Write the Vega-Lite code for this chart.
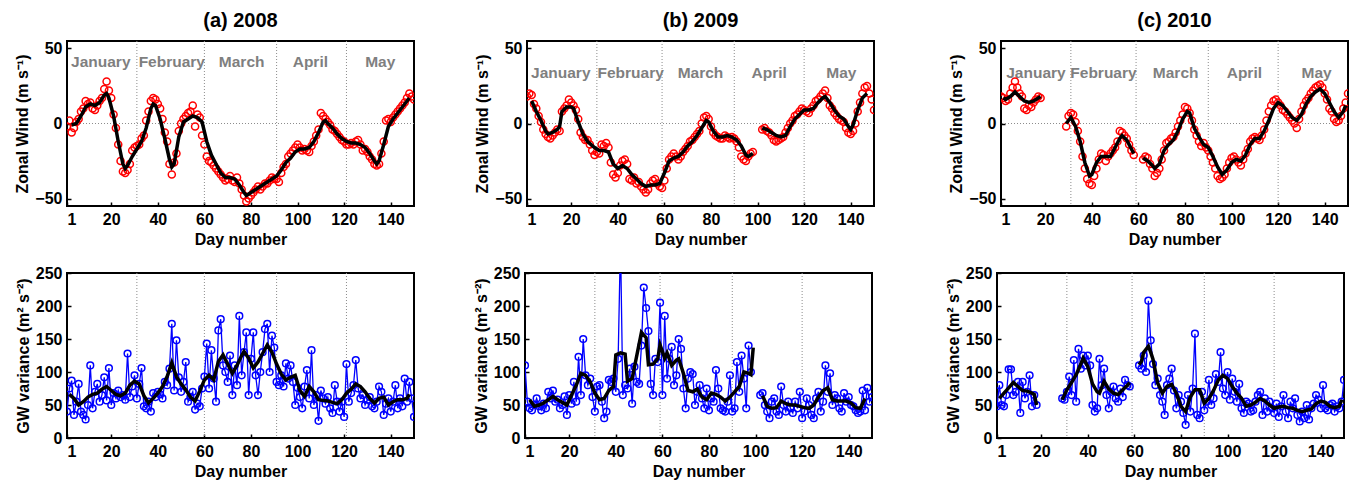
{
"$schema":"https://vega.github.io/schema/vega-lite/v6.json",
"padding":{"left":13,"top":9,"right":0,"bottom":0},
"background":"white",
"config":{
"font":"Liberation Sans",
"view":{"stroke":"black","strokeWidth":2},
"axis":{"labelFont":"Liberation Sans","labelFontWeight":"bold","labelFontSize":16,"labelColor":"black","labelOverlap":false,"titleFont":"Liberation Sans","titleFontWeight":"bold","titleFontSize":16,"titleColor":"black","domain":false,"grid":false,"tickColor":"black","tickSize":-4,"tickWidth":1.5,"labelPadding":9,"titlePadding":4},
"title":{"font":"Liberation Sans","fontSize":20,"fontWeight":"bold","color":"black","offset":10}
},
"datasets":{
"mb":[{"p":"a","d":31},{"p":"a","d":60},{"p":"a","d":91},{"p":"a","d":121},{"p":"b","d":31},{"p":"b","d":59},{"p":"b","d":90},{"p":"b","d":120},{"p":"c","d":31},{"p":"c","d":59},{"p":"c","d":90},{"p":"c","d":120}],
"ml":[{"p":"a","d":15.5,"m":"January"},{"p":"a","d":46,"m":"February"},{"p":"a","d":76,"m":"March"},{"p":"a","d":105.5,"m":"April"},{"p":"a","d":135.5,"m":"May"},
{"p":"b","d":15.5,"m":"January"},{"p":"b","d":45.5,"m":"February"},{"p":"b","d":75.5,"m":"March"},{"p":"b","d":105,"m":"April"},{"p":"b","d":136,"m":"May"},
{"p":"c","d":16,"m":"January"},{"p":"c","d":45,"m":"February"},{"p":"c","d":76,"m":"March"},{"p":"c","d":105.5,"m":"April"},{"p":"c","d":136.5,"m":"May"}],
"raw":[
{"p":"a","d":1,"u":-2,"w":40,"g":1},{"p":"a","d":2,"u":2,"w":75,"g":1},{"p":"a","d":3,"u":-6,"w":87,"g":1},{"p":"a","d":4,"u":-3,"w":35,"g":1},{"p":"a","d":5,"u":1,"w":55,"g":1},{"p":"a","d":6,"u":3,"w":82,"g":1},{"p":"a","d":7,"u":8,"w":40,"g":1},{"p":"a","d":8,"u":10,"w":35,"g":1},{"p":"a","d":9,"u":15,"w":28,"g":1},{"p":"a","d":10,"u":13,"w":50,"g":1},
{"p":"a","d":11,"u":14,"w":110,"g":1},{"p":"a","d":12,"u":10,"w":45,"g":1},{"p":"a","d":13,"u":9,"w":70,"g":1},{"p":"a","d":14,"u":12,"w":82,"g":1},{"p":"a","d":15,"u":15,"w":55,"g":1},{"p":"a","d":16,"u":17,"w":65,"g":1},{"p":"a","d":17,"u":23,"w":92,"g":1},{"p":"a","d":18,"u":28,"w":57,"g":1},{"p":"a","d":19,"u":22,"w":106,"g":1},{"p":"a","d":20,"u":17,"w":50,"g":1},
{"p":"a","d":21,"u":6,"w":68,"g":1},{"p":"a","d":22,"u":-3,"w":60,"g":1},{"p":"a","d":23,"u":-14,"w":72,"g":1},{"p":"a","d":24,"u":-25,"w":62,"g":1},{"p":"a","d":25,"u":-32,"w":65,"g":1},{"p":"a","d":26,"u":-33,"w":58,"g":1},{"p":"a","d":27,"u":-31,"w":128,"g":1},{"p":"a","d":28,"u":-27,"w":62,"g":1},{"p":"a","d":29,"u":-18,"w":78,"g":1},{"p":"a","d":30,"u":-16,"w":95,"g":1},
{"p":"a","d":31,"u":-15,"w":60,"g":1},{"p":"a","d":32,"u":-14,"w":82,"g":1},{"p":"a","d":33,"u":-10,"w":106,"g":1},{"p":"a","d":34,"u":-8,"w":48,"g":1},{"p":"a","d":35,"u":2,"w":45,"g":1},{"p":"a","d":36,"u":8,"w":55,"g":1},{"p":"a","d":37,"u":15,"w":40,"g":1},{"p":"a","d":38,"u":17,"w":68,"g":1},{"p":"a","d":39,"u":16,"w":62,"g":1},{"p":"a","d":40,"u":13,"w":70,"g":1},
{"p":"a","d":41,"u":10,"w":66,"g":1},{"p":"a","d":42,"u":3,"w":60,"g":1},{"p":"a","d":43,"u":-6,"w":85,"g":1},{"p":"a","d":44,"u":-12,"w":80,"g":1},{"p":"a","d":45,"u":-27,"w":105,"g":1},{"p":"a","d":46,"u":-34,"w":173,"g":1},{"p":"a","d":47,"u":-26,"w":72,"g":1},{"p":"a","d":48,"u":-20,"w":148,"g":1},{"p":"a","d":49,"u":-5,"w":92,"g":1},{"p":"a","d":50,"u":0,"w":70,"g":1},
{"p":"a","d":51,"u":3,"w":85,"g":1},{"p":"a","d":52,"u":5,"w":115,"g":1},{"p":"a","d":53,"u":7,"w":55,"g":1},{"p":"a","d":54,"u":8,"w":62,"g":1},{"p":"a","d":55,"u":12,"w":70,"g":1},{"p":"a","d":56,"u":-2,"w":43,"g":1},{"p":"a","d":57,"u":6,"w":52,"g":1},{"p":"a","d":58,"u":4,"w":48,"g":1},{"p":"a","d":59,"u":-8,"w":75,"g":1},{"p":"a","d":60,"u":-14,"w":93,"g":1},
{"p":"a","d":61,"u":-22,"w":143,"g":1},{"p":"a","d":62,"u":-25,"w":75,"g":1},{"p":"a","d":63,"u":-26,"w":133,"g":1},{"p":"a","d":64,"u":-28,"w":90,"g":1},{"p":"a","d":65,"u":-30,"w":55,"g":1},{"p":"a","d":66,"u":-32,"w":163,"g":1},{"p":"a","d":67,"u":-34,"w":180,"g":1},{"p":"a","d":68,"u":-36,"w":110,"g":1},{"p":"a","d":69,"u":-38,"w":100,"g":1},{"p":"a","d":70,"u":-37,"w":85,"g":1},
{"p":"a","d":71,"u":-35,"w":125,"g":1},{"p":"a","d":72,"u":-38,"w":65,"g":1},{"p":"a","d":73,"u":-39,"w":110,"g":1},{"p":"a","d":74,"u":-36,"w":80,"g":1},{"p":"a","d":75,"u":-40,"w":185,"g":1},{"p":"a","d":76,"u":-44,"w":95,"g":1},{"p":"a","d":77,"u":-48,"w":130,"g":1},{"p":"a","d":78,"u":-52,"w":160,"g":1},{"p":"a","d":79,"u":-50,"w":65,"g":1},{"p":"a","d":80,"u":-48,"w":120,"g":1},
{"p":"a","d":81,"u":-46,"w":160,"g":1},{"p":"a","d":82,"u":-44,"w":95,"g":1},{"p":"a","d":83,"u":-42,"w":65,"g":1},{"p":"a","d":84,"u":-44,"w":100,"g":1},{"p":"a","d":85,"u":-42,"w":130,"g":1},{"p":"a","d":86,"u":-40,"w":165,"g":1},{"p":"a","d":87,"u":-40,"w":173,"g":1},{"p":"a","d":88,"u":-38,"w":100,"g":1},{"p":"a","d":89,"u":-36,"w":155,"g":1},{"p":"a","d":90,"u":-37,"w":137,"g":1},
{"p":"a","d":91,"u":-37,"w":85,"g":1},{"p":"a","d":92,"u":-39,"w":80,"g":1},{"p":"a","d":93,"u":-33,"w":95,"g":1},{"p":"a","d":94,"u":-29,"w":78,"g":1},{"p":"a","d":95,"u":-27,"w":113,"g":1},{"p":"a","d":96,"u":-22,"w":90,"g":1},{"p":"a","d":97,"u":-20,"w":110,"g":1},{"p":"a","d":98,"u":-18,"w":85,"g":1},{"p":"a","d":99,"u":-16,"w":50,"g":1},{"p":"a","d":100,"u":-14,"w":76,"g":1},
{"p":"a","d":101,"u":-16,"w":62,"g":1},{"p":"a","d":102,"u":-18,"w":45,"g":1},{"p":"a","d":103,"u":-17,"w":78,"g":1},{"p":"a","d":104,"u":-18,"w":103,"g":1},{"p":"a","d":105,"u":-19,"w":60,"g":1},{"p":"a","d":106,"u":-15,"w":133,"g":1},{"p":"a","d":107,"u":-12,"w":50,"g":1},{"p":"a","d":108,"u":-8,"w":65,"g":1},{"p":"a","d":109,"u":-4,"w":26,"g":1},{"p":"a","d":110,"u":7,"w":72,"g":1},
{"p":"a","d":111,"u":5,"w":60,"g":1},{"p":"a","d":112,"u":3,"w":52,"g":1},{"p":"a","d":113,"u":1,"w":62,"g":1},{"p":"a","d":114,"u":-1,"w":45,"g":1},{"p":"a","d":115,"u":-4,"w":38,"g":1},{"p":"a","d":116,"u":-5,"w":80,"g":1},{"p":"a","d":117,"u":-7,"w":55,"g":1},{"p":"a","d":118,"u":-9,"w":40,"g":1},{"p":"a","d":119,"u":-11,"w":55,"g":1},{"p":"a","d":120,"u":-12,"w":32,"g":1},
{"p":"a","d":121,"u":-14,"w":112,"g":1},{"p":"a","d":122,"u":-14,"w":55,"g":1},{"p":"a","d":123,"u":-13,"w":68,"g":1},{"p":"a","d":124,"u":-14,"w":80,"g":1},{"p":"a","d":125,"u":-12,"w":118,"g":1},{"p":"a","d":126,"u":-11,"w":75,"g":1},{"p":"a","d":127,"u":-14,"w":60,"g":1},{"p":"a","d":128,"u":-18,"w":65,"g":1},{"p":"a","d":129,"u":-17,"w":50,"g":1},{"p":"a","d":130,"u":-19,"w":58,"g":1},
{"p":"a","d":131,"u":-22,"w":62,"g":1},{"p":"a","d":132,"u":-24,"w":48,"g":1},{"p":"a","d":133,"u":-27,"w":45,"g":1},{"p":"a","d":134,"u":-28,"w":55,"g":1},{"p":"a","d":135,"u":-27,"w":78,"g":1},{"p":"a","d":136,"u":-20,"w":70,"g":1},{"p":"a","d":137,"u":-12,"w":35,"g":1},{"p":"a","d":138,"u":2,"w":52,"g":1},{"p":"a","d":139,"u":3,"w":60,"g":1},{"p":"a","d":140,"u":1,"w":40,"g":1},
{"p":"a","d":141,"u":4,"w":55,"g":1},{"p":"a","d":142,"u":6,"w":80,"g":1},{"p":"a","d":143,"u":8,"w":45,"g":1},{"p":"a","d":144,"u":10,"w":60,"g":1},{"p":"a","d":145,"u":12,"w":48,"g":1},{"p":"a","d":146,"u":14,"w":90,"g":1},{"p":"a","d":147,"u":17,"w":55,"g":1},{"p":"a","d":148,"u":20,"w":85,"g":1},{"p":"a","d":149,"u":18,"w":60,"g":1},{"p":"a","d":150,"u":16,"w":32,"g":1},
{"p":"b","d":1,"u":18,"w":110,"g":1},{"p":"b","d":2,"u":20,"w":55,"g":1},{"p":"b","d":3,"u":19,"w":45,"g":1},{"p":"b","d":4,"u":13,"w":42,"g":1},{"p":"b","d":5,"u":10,"w":50,"g":1},{"p":"b","d":6,"u":5,"w":60,"g":1},{"p":"b","d":7,"u":1,"w":48,"g":1},{"p":"b","d":8,"u":-4,"w":42,"g":1},{"p":"b","d":9,"u":-7,"w":52,"g":1},{"p":"b","d":10,"u":-9,"w":45,"g":1},
{"p":"b","d":11,"u":-10,"w":70,"g":1},{"p":"b","d":12,"u":-8,"w":60,"g":1},{"p":"b","d":13,"u":-6,"w":72,"g":1},{"p":"b","d":14,"u":-4,"w":55,"g":1},{"p":"b","d":15,"u":-5,"w":58,"g":1},{"p":"b","d":16,"u":8,"w":45,"g":1},{"p":"b","d":17,"u":10,"w":50,"g":1},{"p":"b","d":18,"u":12,"w":63,"g":1},{"p":"b","d":19,"u":16,"w":35,"g":1},{"p":"b","d":20,"u":14,"w":65,"g":1},
{"p":"b","d":21,"u":12,"w":52,"g":1},{"p":"b","d":22,"u":9,"w":85,"g":1},{"p":"b","d":23,"u":3,"w":55,"g":1},{"p":"b","d":24,"u":-6,"w":123,"g":1},{"p":"b","d":25,"u":-9,"w":65,"g":1},{"p":"b","d":26,"u":-11,"w":150,"g":1},{"p":"b","d":27,"u":-11,"w":95,"g":1},{"p":"b","d":28,"u":-14,"w":80,"g":1},{"p":"b","d":29,"u":-18,"w":90,"g":1},{"p":"b","d":30,"u":-21,"w":62,"g":1},
{"p":"b","d":31,"u":-19,"w":40,"g":1},{"p":"b","d":32,"u":-20,"w":78,"g":1},{"p":"b","d":33,"u":-14,"w":80,"g":1},{"p":"b","d":34,"u":-15,"w":55,"g":1},{"p":"b","d":35,"u":-13,"w":30,"g":1},{"p":"b","d":36,"u":-16,"w":40,"g":1},{"p":"b","d":37,"u":-26,"w":88,"g":1},{"p":"b","d":38,"u":-34,"w":85,"g":1},{"p":"b","d":39,"u":-36,"w":90,"g":1},{"p":"b","d":40,"u":-33,"w":70,"g":1},
{"p":"b","d":41,"u":-28,"w":120,"g":1},{"p":"b","d":42,"u":-25,"w":300,"g":1},{"p":"b","d":43,"u":-24,"w":65,"g":1},{"p":"b","d":44,"u":-27,"w":80,"g":1},{"p":"b","d":45,"u":-37,"w":75,"g":1},{"p":"b","d":46,"u":-38,"w":105,"g":1},{"p":"b","d":47,"u":-36,"w":52,"g":1},{"p":"b","d":48,"u":-40,"w":108,"g":1},{"p":"b","d":49,"u":-39,"w":85,"g":1},{"p":"b","d":50,"u":-42,"w":82,"g":1},
{"p":"b","d":51,"u":-44,"w":140,"g":1},{"p":"b","d":52,"u":-46,"w":228,"g":1},{"p":"b","d":53,"u":-44,"w":197,"g":1},{"p":"b","d":54,"u":-40,"w":162,"g":1},{"p":"b","d":55,"u":-38,"w":82,"g":1},{"p":"b","d":56,"u":-37,"w":65,"g":1},{"p":"b","d":57,"u":-40,"w":120,"g":1},{"p":"b","d":58,"u":-42,"w":115,"g":1},{"p":"b","d":59,"u":-43,"w":205,"g":1},{"p":"b","d":60,"u":-38,"w":65,"g":1},
{"p":"b","d":61,"u":-30,"w":185,"g":1},{"p":"b","d":62,"u":-24,"w":90,"g":1},{"p":"b","d":63,"u":-22,"w":120,"g":1},{"p":"b","d":64,"u":-20,"w":138,"g":1},{"p":"b","d":65,"u":-22,"w":80,"g":1},{"p":"b","d":66,"u":-24,"w":95,"g":1},{"p":"b","d":67,"u":-22,"w":150,"g":1},{"p":"b","d":68,"u":-19,"w":135,"g":1},{"p":"b","d":69,"u":-17,"w":75,"g":1},{"p":"b","d":70,"u":-15,"w":45,"g":1},
{"p":"b","d":71,"u":-12,"w":90,"g":1},{"p":"b","d":72,"u":-11,"w":100,"g":1},{"p":"b","d":73,"u":-9,"w":97,"g":1},{"p":"b","d":74,"u":-7,"w":50,"g":1},{"p":"b","d":75,"u":-5,"w":70,"g":1},{"p":"b","d":76,"u":0,"w":80,"g":1},{"p":"b","d":77,"u":4,"w":60,"g":1},{"p":"b","d":78,"u":5,"w":45,"g":1},{"p":"b","d":79,"u":3,"w":75,"g":1},{"p":"b","d":80,"u":-2,"w":42,"g":1},
{"p":"b","d":81,"u":-6,"w":60,"g":1},{"p":"b","d":82,"u":-8,"w":55,"g":1},{"p":"b","d":83,"u":-9,"w":103,"g":1},{"p":"b","d":84,"u":-10,"w":75,"g":1},{"p":"b","d":85,"u":-10,"w":45,"g":1},{"p":"b","d":86,"u":-8,"w":42,"g":1},{"p":"b","d":87,"u":-9,"w":40,"g":1},{"p":"b","d":88,"u":-10,"w":55,"g":1},{"p":"b","d":89,"u":-9,"w":95,"g":1},{"p":"b","d":90,"u":-10,"w":40,"g":1},
{"p":"b","d":91,"u":-12,"w":45,"g":1},{"p":"b","d":92,"u":-16,"w":115,"g":1},{"p":"b","d":93,"u":-22,"w":70,"g":1},{"p":"b","d":94,"u":-24,"w":125,"g":1},{"p":"b","d":95,"u":-25,"w":90,"g":1},{"p":"b","d":96,"u":-22,"w":45,"g":1},{"p":"b","d":97,"u":-20,"w":140,"g":1},{"p":"b","d":98,"u":-19,"w":100,"g":1},
{"p":"b","d":102,"u":-4,"w":65,"g":2},{"p":"b","d":103,"u":-3,"w":68,"g":2},{"p":"b","d":104,"u":-5,"w":50,"g":2},{"p":"b","d":105,"u":-6,"w":40,"g":2},{"p":"b","d":106,"u":-8,"w":30,"g":2},{"p":"b","d":107,"u":-11,"w":55,"g":2},{"p":"b","d":108,"u":-12,"w":60,"g":2},{"p":"b","d":109,"u":-11,"w":40,"g":2},{"p":"b","d":110,"u":-10,"w":35,"g":2},
{"p":"b","d":111,"u":-9,"w":78,"g":2},{"p":"b","d":112,"u":-6,"w":50,"g":2},{"p":"b","d":113,"u":-3,"w":40,"g":2},{"p":"b","d":114,"u":0,"w":55,"g":2},{"p":"b","d":115,"u":2,"w":45,"g":2},{"p":"b","d":116,"u":5,"w":38,"g":2},{"p":"b","d":117,"u":6,"w":55,"g":2},{"p":"b","d":118,"u":8,"w":45,"g":2},{"p":"b","d":119,"u":10,"w":70,"g":2},{"p":"b","d":120,"u":9,"w":30,"g":2},
{"p":"b","d":121,"u":8,"w":40,"g":2},{"p":"b","d":122,"u":7,"w":60,"g":2},{"p":"b","d":123,"u":10,"w":50,"g":2},{"p":"b","d":124,"u":12,"w":35,"g":2},{"p":"b","d":125,"u":15,"w":30,"g":2},{"p":"b","d":126,"u":16,"w":60,"g":2},{"p":"b","d":127,"u":18,"w":70,"g":2},{"p":"b","d":128,"u":20,"w":40,"g":2},{"p":"b","d":129,"u":22,"w":55,"g":2},{"p":"b","d":130,"u":17,"w":110,"g":2},
{"p":"b","d":131,"u":12,"w":70,"g":2},{"p":"b","d":132,"u":10,"w":98,"g":2},{"p":"b","d":133,"u":7,"w":50,"g":2},{"p":"b","d":134,"u":5,"w":65,"g":2},{"p":"b","d":135,"u":3,"w":60,"g":2},{"p":"b","d":136,"u":2,"w":45,"g":2},{"p":"b","d":137,"u":1,"w":40,"g":2},{"p":"b","d":138,"u":-3,"w":68,"g":2},{"p":"b","d":139,"u":-6,"w":55,"g":2},{"p":"b","d":140,"u":-7,"w":62,"g":2},
{"p":"b","d":141,"u":-5,"w":50,"g":2},{"p":"b","d":142,"u":0,"w":48,"g":2},{"p":"b","d":143,"u":8,"w":42,"g":2},{"p":"b","d":144,"u":14,"w":38,"g":2},{"p":"b","d":145,"u":20,"w":40,"g":2},{"p":"b","d":146,"u":24,"w":72,"g":2},{"p":"b","d":147,"u":25,"w":42,"g":2},{"p":"b","d":148,"u":20,"w":76,"g":2},{"p":"b","d":149,"u":16,"w":55,"g":2},{"p":"b","d":150,"u":9,"w":62,"g":2},
{"p":"c","d":1,"u":18,"w":48,"g":1},{"p":"c","d":2,"u":17,"w":80,"g":1},{"p":"c","d":3,"u":15,"w":50,"g":1},{"p":"c","d":4,"u":16,"w":48,"g":1},{"p":"c","d":5,"u":20,"w":65,"g":1},{"p":"c","d":6,"u":24,"w":104,"g":1},{"p":"c","d":7,"u":28,"w":104,"g":1},{"p":"c","d":8,"u":24,"w":65,"g":1},{"p":"c","d":9,"u":20,"w":70,"g":1},{"p":"c","d":10,"u":18,"w":85,"g":1},
{"p":"c","d":11,"u":10,"w":38,"g":1},{"p":"c","d":12,"u":9,"w":85,"g":1},{"p":"c","d":13,"u":12,"w":60,"g":1},{"p":"c","d":14,"u":11,"w":70,"g":1},{"p":"c","d":15,"u":14,"w":95,"g":1},{"p":"c","d":16,"u":16,"w":48,"g":1},{"p":"c","d":17,"u":18,"w":65,"g":1},{"p":"c","d":18,"u":17,"w":50,"g":1},
{"p":"c","d":29,"u":-2,"w":60,"g":2},{"p":"c","d":30,"u":5,"w":58,"g":2},{"p":"c","d":31,"u":7,"w":70,"g":2},{"p":"c","d":32,"u":6,"w":93,"g":2},{"p":"c","d":33,"u":1,"w":65,"g":2},{"p":"c","d":34,"u":-5,"w":118,"g":2},{"p":"c","d":35,"u":-12,"w":55,"g":2},{"p":"c","d":36,"u":-22,"w":135,"g":2},{"p":"c","d":37,"u":-30,"w":105,"g":2},{"p":"c","d":38,"u":-37,"w":125,"g":2},
{"p":"c","d":39,"u":-40,"w":110,"g":2},{"p":"c","d":40,"u":-41,"w":125,"g":2},{"p":"c","d":41,"u":-35,"w":110,"g":2},{"p":"c","d":42,"u":-30,"w":50,"g":2},{"p":"c","d":43,"u":-24,"w":40,"g":2},{"p":"c","d":44,"u":-20,"w":45,"g":2},{"p":"c","d":45,"u":-21,"w":120,"g":2},{"p":"c","d":46,"u":-25,"w":80,"g":2},{"p":"c","d":47,"u":-22,"w":105,"g":2},{"p":"c","d":48,"u":-20,"w":65,"g":2},
{"p":"c","d":49,"u":-18,"w":45,"g":2},{"p":"c","d":50,"u":-16,"w":70,"g":2},{"p":"c","d":51,"u":-12,"w":78,"g":2},{"p":"c","d":52,"u":-5,"w":60,"g":2},{"p":"c","d":53,"u":-6,"w":55,"g":2},{"p":"c","d":54,"u":-8,"w":75,"g":2},{"p":"c","d":55,"u":-10,"w":62,"g":2},{"p":"c","d":56,"u":-14,"w":88,"g":2},{"p":"c","d":57,"u":-18,"w":80,"g":2},{"p":"c","d":58,"u":-21,"w":78,"g":2},
{"p":"c","d":62,"u":-24,"w":110,"g":3},{"p":"c","d":63,"u":-22,"w":105,"g":3},{"p":"c","d":64,"u":-23,"w":125,"g":3},{"p":"c","d":65,"u":-27,"w":100,"g":3},{"p":"c","d":66,"u":-30,"w":208,"g":3},{"p":"c","d":67,"u":-35,"w":148,"g":3},{"p":"c","d":68,"u":-33,"w":112,"g":3},{"p":"c","d":69,"u":-30,"w":80,"g":3},{"p":"c","d":70,"u":-24,"w":90,"g":3},
{"p":"c","d":71,"u":-18,"w":65,"g":3},{"p":"c","d":72,"u":-13,"w":55,"g":3},{"p":"c","d":73,"u":-12,"w":35,"g":3},{"p":"c","d":74,"u":-10,"w":80,"g":3},{"p":"c","d":75,"u":-9,"w":90,"g":3},{"p":"c","d":76,"u":-6,"w":105,"g":3},{"p":"c","d":77,"u":-2,"w":72,"g":3},{"p":"c","d":78,"u":2,"w":45,"g":3},{"p":"c","d":79,"u":6,"w":65,"g":3},{"p":"c","d":80,"u":11,"w":55,"g":3},
{"p":"c","d":81,"u":10,"w":38,"g":3},{"p":"c","d":82,"u":7,"w":20,"g":3},{"p":"c","d":83,"u":2,"w":65,"g":3},{"p":"c","d":84,"u":-4,"w":40,"g":3},{"p":"c","d":85,"u":-8,"w":75,"g":3},{"p":"c","d":86,"u":-12,"w":158,"g":3},{"p":"c","d":87,"u":-15,"w":35,"g":3},{"p":"c","d":88,"u":-13,"w":30,"g":3},{"p":"c","d":89,"u":-16,"w":70,"g":3},{"p":"c","d":90,"u":-18,"w":42,"g":3},
{"p":"c","d":91,"u":-22,"w":55,"g":3},{"p":"c","d":92,"u":-26,"w":88,"g":3},{"p":"c","d":93,"u":-30,"w":50,"g":3},{"p":"c","d":94,"u":-35,"w":60,"g":3},{"p":"c","d":95,"u":-37,"w":97,"g":3},{"p":"c","d":96,"u":-36,"w":85,"g":3},{"p":"c","d":97,"u":-34,"w":130,"g":3},{"p":"c","d":98,"u":-30,"w":75,"g":3},{"p":"c","d":99,"u":-26,"w":65,"g":3},{"p":"c","d":100,"u":-23,"w":100,"g":3},
{"p":"c","d":101,"u":-22,"w":58,"g":3},{"p":"c","d":102,"u":-24,"w":90,"g":3},{"p":"c","d":103,"u":-26,"w":70,"g":3},{"p":"c","d":104,"u":-28,"w":55,"g":3},{"p":"c","d":105,"u":-24,"w":82,"g":3},{"p":"c","d":106,"u":-20,"w":45,"g":3},{"p":"c","d":107,"u":-17,"w":38,"g":3},{"p":"c","d":108,"u":-12,"w":55,"g":3},{"p":"c","d":109,"u":-10,"w":52,"g":3},{"p":"c","d":110,"u":-9,"w":40,"g":3},
{"p":"c","d":111,"u":-10,"w":42,"g":3},{"p":"c","d":112,"u":-11,"w":55,"g":3},{"p":"c","d":113,"u":-8,"w":65,"g":3},{"p":"c","d":114,"u":-4,"w":70,"g":3},{"p":"c","d":115,"u":2,"w":35,"g":3},{"p":"c","d":116,"u":8,"w":60,"g":3},{"p":"c","d":117,"u":12,"w":40,"g":3},{"p":"c","d":118,"u":15,"w":55,"g":3},{"p":"c","d":119,"u":16,"w":45,"g":3},{"p":"c","d":120,"u":14,"w":38,"g":3},
{"p":"c","d":121,"u":12,"w":52,"g":3},{"p":"c","d":122,"u":9,"w":32,"g":3},{"p":"c","d":123,"u":8,"w":48,"g":3},{"p":"c","d":124,"u":6,"w":65,"g":3},{"p":"c","d":125,"u":4,"w":40,"g":3},{"p":"c","d":126,"u":2,"w":30,"g":3},{"p":"c","d":127,"u":0,"w":55,"g":3},{"p":"c","d":128,"u":-3,"w":45,"g":3},{"p":"c","d":129,"u":3,"w":60,"g":3},{"p":"c","d":130,"u":8,"w":35,"g":3},
{"p":"c","d":131,"u":12,"w":25,"g":3},{"p":"c","d":132,"u":15,"w":40,"g":3},{"p":"c","d":133,"u":17,"w":30,"g":3},{"p":"c","d":134,"u":20,"w":50,"g":3},{"p":"c","d":135,"u":22,"w":28,"g":3},{"p":"c","d":136,"u":24,"w":45,"g":3},{"p":"c","d":137,"u":25,"w":52,"g":3},{"p":"c","d":138,"u":26,"w":65,"g":3},{"p":"c","d":139,"u":24,"w":58,"g":3},{"p":"c","d":140,"u":20,"w":45,"g":3},
{"p":"c","d":141,"u":16,"w":80,"g":3},{"p":"c","d":142,"u":10,"w":45,"g":3},{"p":"c","d":143,"u":8,"w":42,"g":3},{"p":"c","d":144,"u":3,"w":50,"g":3},{"p":"c","d":145,"u":1,"w":52,"g":3},{"p":"c","d":146,"u":2,"w":40,"g":3},{"p":"c","d":147,"u":5,"w":48,"g":3},{"p":"c","d":148,"u":10,"w":45,"g":3},{"p":"c","d":149,"u":14,"w":55,"g":3},{"p":"c","d":150,"u":20,"w":88,"g":3}
],
"ws":[
{"p":"a","d":3,"s":-1,"g":1},{"p":"a","d":5,"s":0,"g":1},{"p":"a","d":7,"s":5,"g":1},{"p":"a","d":9,"s":11,"g":1},{"p":"a","d":11,"s":13,"g":1},{"p":"a","d":13,"s":12,"g":1},{"p":"a","d":15,"s":14,"g":1},{"p":"a","d":17,"s":19,"g":1},{"p":"a","d":18,"s":20,"g":1},{"p":"a","d":19,"s":17,"g":1},{"p":"a","d":21,"s":5,"g":1},{"p":"a","d":23,"s":-12,"g":1},{"p":"a","d":25,"s":-27,"g":1},{"p":"a","d":26,"s":-30,"g":1},{"p":"a","d":27,"s":-28,"g":1},{"p":"a","d":29,"s":-22,"g":1},{"p":"a","d":31,"s":-17,"g":1},{"p":"a","d":33,"s":-12,"g":1},{"p":"a","d":35,"s":-3,"g":1},{"p":"a","d":37,"s":10,"g":1},{"p":"a","d":38,"s":13,"g":1},{"p":"a","d":39,"s":12,"g":1},{"p":"a","d":41,"s":3,"g":1},{"p":"a","d":43,"s":-10,"g":1},{"p":"a","d":45,"s":-24,"g":1},{"p":"a","d":46,"s":-29,"g":1},{"p":"a","d":47,"s":-27,"g":1},{"p":"a","d":49,"s":-9,"g":1},{"p":"a","d":51,"s":1,"g":1},{"p":"a","d":53,"s":3,"g":1},{"p":"a","d":55,"s":5,"g":1},{"p":"a","d":57,"s":4,"g":1},{"p":"a","d":59,"s":1,"g":1},{"p":"a","d":61,"s":-12,"g":1},{"p":"a","d":63,"s":-21,"g":1},{"p":"a","d":65,"s":-27,"g":1},{"p":"a","d":67,"s":-33,"g":1},{"p":"a","d":69,"s":-36,"g":1},{"p":"a","d":71,"s":-36,"g":1},{"p":"a","d":73,"s":-37,"g":1},{"p":"a","d":75,"s":-41,"g":1},{"p":"a","d":77,"s":-46,"g":1},{"p":"a","d":78,"s":-48,"g":1},{"p":"a","d":79,"s":-47,"g":1},{"p":"a","d":81,"s":-45,"g":1},{"p":"a","d":83,"s":-43,"g":1},{"p":"a","d":85,"s":-41,"g":1},{"p":"a","d":87,"s":-39,"g":1},{"p":"a","d":89,"s":-37,"g":1},{"p":"a","d":91,"s":-35,"g":1},{"p":"a","d":93,"s":-31,"g":1},{"p":"a","d":95,"s":-26,"g":1},{"p":"a","d":97,"s":-23,"g":1},{"p":"a","d":99,"s":-19,"g":1},{"p":"a","d":101,"s":-17,"g":1},{"p":"a","d":103,"s":-17,"g":1},{"p":"a","d":105,"s":-16,"g":1},{"p":"a","d":107,"s":-12,"g":1},{"p":"a","d":109,"s":-6,"g":1},{"p":"a","d":111,"s":1,"g":1},{"p":"a","d":112,"s":2,"g":1},{"p":"a","d":113,"s":0,"g":1},{"p":"a","d":115,"s":-3,"g":1},{"p":"a","d":117,"s":-7,"g":1},{"p":"a","d":119,"s":-10,"g":1},{"p":"a","d":121,"s":-12,"g":1},{"p":"a","d":123,"s":-13,"g":1},{"p":"a","d":125,"s":-13,"g":1},{"p":"a","d":127,"s":-14,"g":1},{"p":"a","d":129,"s":-16,"g":1},{"p":"a","d":131,"s":-20,"g":1},{"p":"a","d":133,"s":-25,"g":1},{"p":"a","d":134,"s":-27,"g":1},{"p":"a","d":135,"s":-25,"g":1},{"p":"a","d":137,"s":-14,"g":1},{"p":"a","d":139,"s":-2,"g":1},{"p":"a","d":141,"s":3,"g":1},{"p":"a","d":143,"s":7,"g":1},{"p":"a","d":145,"s":11,"g":1},{"p":"a","d":147,"s":15,"g":1},{"p":"a","d":148,"s":17,"g":1},
{"p":"b","d":3,"s":15,"g":1},{"p":"b","d":5,"s":8,"g":1},{"p":"b","d":7,"s":2,"g":1},{"p":"b","d":9,"s":-5,"g":1},{"p":"b","d":10,"s":-7,"g":1},{"p":"b","d":12,"s":-6,"g":1},{"p":"b","d":14,"s":-4,"g":1},{"p":"b","d":15,"s":-2,"g":1},{"p":"b","d":16,"s":8,"g":1},{"p":"b","d":18,"s":11,"g":1},{"p":"b","d":20,"s":11,"g":1},{"p":"b","d":21,"s":10,"g":1},{"p":"b","d":23,"s":1,"g":1},{"p":"b","d":25,"s":-7,"g":1},{"p":"b","d":27,"s":-12,"g":1},{"p":"b","d":30,"s":-16,"g":1},{"p":"b","d":32,"s":-18,"g":1},{"p":"b","d":34,"s":-18,"g":1},{"p":"b","d":36,"s":-19,"g":1},{"p":"b","d":38,"s":-27,"g":1},{"p":"b","d":40,"s":-30,"g":1},{"p":"b","d":42,"s":-28,"g":1},{"p":"b","d":44,"s":-30,"g":1},{"p":"b","d":46,"s":-34,"g":1},{"p":"b","d":48,"s":-37,"g":1},{"p":"b","d":50,"s":-40,"g":1},{"p":"b","d":52,"s":-42,"g":1},{"p":"b","d":54,"s":-41,"g":1},{"p":"b","d":56,"s":-41,"g":1},{"p":"b","d":58,"s":-40,"g":1},{"p":"b","d":60,"s":-33,"g":1},{"p":"b","d":62,"s":-25,"g":1},{"p":"b","d":64,"s":-23,"g":1},{"p":"b","d":66,"s":-22,"g":1},{"p":"b","d":68,"s":-19,"g":1},{"p":"b","d":70,"s":-15,"g":1},{"p":"b","d":72,"s":-12,"g":1},{"p":"b","d":74,"s":-8,"g":1},{"p":"b","d":76,"s":-3,"g":1},{"p":"b","d":78,"s":2,"g":1},{"p":"b","d":79,"s":1,"g":1},{"p":"b","d":81,"s":-5,"g":1},{"p":"b","d":83,"s":-9,"g":1},{"p":"b","d":85,"s":-9,"g":1},{"p":"b","d":87,"s":-8,"g":1},{"p":"b","d":89,"s":-9,"g":1},{"p":"b","d":91,"s":-11,"g":1},{"p":"b","d":93,"s":-15,"g":1},{"p":"b","d":95,"s":-21,"g":1},{"p":"b","d":96,"s":-22,"g":1},{"p":"b","d":98,"s":-20,"g":1},
{"p":"b","d":102,"s":-3,"g":2},{"p":"b","d":104,"s":-4,"g":2},{"p":"b","d":106,"s":-6,"g":2},{"p":"b","d":108,"s":-8,"g":2},{"p":"b","d":110,"s":-9,"g":2},{"p":"b","d":112,"s":-8,"g":2},{"p":"b","d":114,"s":-2,"g":2},{"p":"b","d":116,"s":3,"g":2},{"p":"b","d":118,"s":6,"g":2},{"p":"b","d":120,"s":9,"g":2},{"p":"b","d":122,"s":9,"g":2},{"p":"b","d":124,"s":10,"g":2},{"p":"b","d":126,"s":14,"g":2},{"p":"b","d":128,"s":17,"g":2},{"p":"b","d":129,"s":18,"g":2},{"p":"b","d":131,"s":14,"g":2},{"p":"b","d":133,"s":9,"g":2},{"p":"b","d":135,"s":5,"g":2},{"p":"b","d":137,"s":3,"g":2},{"p":"b","d":139,"s":-2,"g":2},{"p":"b","d":140,"s":-4,"g":2},{"p":"b","d":141,"s":-1,"g":2},{"p":"b","d":143,"s":9,"g":2},{"p":"b","d":145,"s":17,"g":2},{"p":"b","d":147,"s":20,"g":2},
{"p":"c","d":2,"s":17,"g":1},{"p":"c","d":3,"s":16,"g":1},{"p":"c","d":5,"s":18,"g":1},{"p":"c","d":7,"s":21,"g":1},{"p":"c","d":9,"s":18,"g":1},{"p":"c","d":11,"s":15,"g":1},{"p":"c","d":13,"s":14,"g":1},{"p":"c","d":15,"s":15,"g":1},{"p":"c","d":17,"s":17,"g":1},{"p":"c","d":18,"s":18,"g":1},
{"p":"c","d":29,"s":0,"g":2},{"p":"c","d":31,"s":4,"g":2},{"p":"c","d":33,"s":-2,"g":2},{"p":"c","d":35,"s":-12,"g":2},{"p":"c","d":37,"s":-26,"g":2},{"p":"c","d":39,"s":-35,"g":2},{"p":"c","d":40,"s":-34,"g":2},{"p":"c","d":42,"s":-26,"g":2},{"p":"c","d":44,"s":-22,"g":2},{"p":"c","d":46,"s":-22,"g":2},{"p":"c","d":48,"s":-22,"g":2},{"p":"c","d":50,"s":-16,"g":2},{"p":"c","d":52,"s":-10,"g":2},{"p":"c","d":53,"s":-8,"g":2},{"p":"c","d":55,"s":-11,"g":2},{"p":"c","d":57,"s":-17,"g":2},{"p":"c","d":58,"s":-20,"g":2},
{"p":"c","d":62,"s":-23,"g":3},{"p":"c","d":64,"s":-25,"g":3},{"p":"c","d":66,"s":-28,"g":3},{"p":"c","d":67,"s":-30,"g":3},{"p":"c","d":69,"s":-27,"g":3},{"p":"c","d":71,"s":-18,"g":3},{"p":"c","d":73,"s":-14,"g":3},{"p":"c","d":75,"s":-11,"g":3},{"p":"c","d":77,"s":-5,"g":3},{"p":"c","d":79,"s":3,"g":3},{"p":"c","d":81,"s":8,"g":3},{"p":"c","d":82,"s":7,"g":3},{"p":"c","d":84,"s":-3,"g":3},{"p":"c","d":86,"s":-9,"g":3},{"p":"c","d":88,"s":-14,"g":3},{"p":"c","d":90,"s":-16,"g":3},{"p":"c","d":92,"s":-22,"g":3},{"p":"c","d":94,"s":-29,"g":3},{"p":"c","d":96,"s":-34,"g":3},{"p":"c","d":98,"s":-31,"g":3},{"p":"c","d":100,"s":-26,"g":3},{"p":"c","d":102,"s":-24,"g":3},{"p":"c","d":104,"s":-25,"g":3},{"p":"c","d":106,"s":-21,"g":3},{"p":"c","d":108,"s":-14,"g":3},{"p":"c","d":110,"s":-10,"g":3},{"p":"c","d":112,"s":-10,"g":3},{"p":"c","d":114,"s":-5,"g":3},{"p":"c","d":116,"s":2,"g":3},{"p":"c","d":118,"s":10,"g":3},{"p":"c","d":120,"s":14,"g":3},{"p":"c","d":122,"s":12,"g":3},{"p":"c","d":124,"s":8,"g":3},{"p":"c","d":126,"s":4,"g":3},{"p":"c","d":128,"s":2,"g":3},{"p":"c","d":130,"s":6,"g":3},{"p":"c","d":132,"s":13,"g":3},{"p":"c","d":134,"s":18,"g":3},{"p":"c","d":136,"s":21,"g":3},{"p":"c","d":138,"s":23,"g":3},{"p":"c","d":140,"s":20,"g":3},{"p":"c","d":142,"s":14,"g":3},{"p":"c","d":144,"s":8,"g":3},{"p":"c","d":146,"s":4,"g":3},{"p":"c","d":148,"s":8,"g":3},{"p":"c","d":149,"s":12,"g":3}
],
"vs":[
{"p":"a","d":2,"s":66,"g":1},{"p":"a","d":4,"s":60,"g":1},{"p":"a","d":6,"s":50,"g":1},{"p":"a","d":8,"s":55,"g":1},{"p":"a","d":10,"s":62,"g":1},{"p":"a","d":12,"s":66,"g":1},{"p":"a","d":14,"s":68,"g":1},{"p":"a","d":16,"s":74,"g":1},{"p":"a","d":18,"s":78,"g":1},{"p":"a","d":20,"s":72,"g":1},{"p":"a","d":22,"s":66,"g":1},{"p":"a","d":24,"s":64,"g":1},{"p":"a","d":26,"s":68,"g":1},{"p":"a","d":28,"s":80,"g":1},{"p":"a","d":30,"s":86,"g":1},{"p":"a","d":32,"s":82,"g":1},{"p":"a","d":34,"s":64,"g":1},{"p":"a","d":36,"s":53,"g":1},{"p":"a","d":38,"s":60,"g":1},{"p":"a","d":40,"s":68,"g":1},{"p":"a","d":42,"s":78,"g":1},{"p":"a","d":44,"s":93,"g":1},{"p":"a","d":46,"s":114,"g":1},{"p":"a","d":48,"s":93,"g":1},{"p":"a","d":50,"s":82,"g":1},{"p":"a","d":52,"s":73,"g":1},{"p":"a","d":54,"s":62,"g":1},{"p":"a","d":56,"s":56,"g":1},{"p":"a","d":58,"s":71,"g":1},{"p":"a","d":60,"s":88,"g":1},{"p":"a","d":62,"s":95,"g":1},{"p":"a","d":64,"s":88,"g":1},{"p":"a","d":66,"s":116,"g":1},{"p":"a","d":68,"s":126,"g":1},{"p":"a","d":70,"s":112,"g":1},{"p":"a","d":72,"s":98,"g":1},{"p":"a","d":74,"s":110,"g":1},{"p":"a","d":76,"s":125,"g":1},{"p":"a","d":77,"s":131,"g":1},{"p":"a","d":79,"s":121,"g":1},{"p":"a","d":81,"s":106,"g":1},{"p":"a","d":83,"s":115,"g":1},{"p":"a","d":85,"s":128,"g":1},{"p":"a","d":87,"s":141,"g":1},{"p":"a","d":89,"s":130,"g":1},{"p":"a","d":91,"s":112,"g":1},{"p":"a","d":93,"s":97,"g":1},{"p":"a","d":95,"s":88,"g":1},{"p":"a","d":97,"s":92,"g":1},{"p":"a","d":99,"s":95,"g":1},{"p":"a","d":101,"s":72,"g":1},{"p":"a","d":103,"s":63,"g":1},{"p":"a","d":105,"s":78,"g":1},{"p":"a","d":107,"s":70,"g":1},{"p":"a","d":109,"s":58,"g":1},{"p":"a","d":111,"s":57,"g":1},{"p":"a","d":113,"s":56,"g":1},{"p":"a","d":115,"s":54,"g":1},{"p":"a","d":117,"s":52,"g":1},{"p":"a","d":119,"s":58,"g":1},{"p":"a","d":121,"s":68,"g":1},{"p":"a","d":123,"s":74,"g":1},{"p":"a","d":125,"s":82,"g":1},{"p":"a","d":127,"s":78,"g":1},{"p":"a","d":129,"s":70,"g":1},{"p":"a","d":131,"s":60,"g":1},{"p":"a","d":133,"s":53,"g":1},{"p":"a","d":135,"s":60,"g":1},{"p":"a","d":137,"s":62,"g":1},{"p":"a","d":139,"s":50,"g":1},{"p":"a","d":141,"s":55,"g":1},{"p":"a","d":143,"s":58,"g":1},{"p":"a","d":145,"s":58,"g":1},{"p":"a","d":147,"s":60,"g":1},{"p":"a","d":148,"s":66,"g":1},
{"p":"b","d":3,"s":58,"g":1},{"p":"b","d":5,"s":48,"g":1},{"p":"b","d":7,"s":50,"g":1},{"p":"b","d":9,"s":53,"g":1},{"p":"b","d":11,"s":58,"g":1},{"p":"b","d":13,"s":63,"g":1},{"p":"b","d":15,"s":58,"g":1},{"p":"b","d":17,"s":54,"g":1},{"p":"b","d":19,"s":50,"g":1},{"p":"b","d":21,"s":65,"g":1},{"p":"b","d":23,"s":80,"g":1},{"p":"b","d":25,"s":98,"g":1},{"p":"b","d":27,"s":95,"g":1},{"p":"b","d":29,"s":85,"g":1},{"p":"b","d":31,"s":68,"g":1},{"p":"b","d":33,"s":58,"g":1},{"p":"b","d":35,"s":60,"g":1},{"p":"b","d":37,"s":72,"g":1},{"p":"b","d":39,"s":78,"g":1},{"p":"b","d":40,"s":126,"g":1},{"p":"b","d":42,"s":129,"g":1},{"p":"b","d":44,"s":127,"g":1},{"p":"b","d":45,"s":86,"g":1},{"p":"b","d":47,"s":90,"g":1},{"p":"b","d":49,"s":125,"g":1},{"p":"b","d":51,"s":160,"g":1},{"p":"b","d":53,"s":152,"g":1},{"p":"b","d":54,"s":111,"g":1},{"p":"b","d":56,"s":112,"g":1},{"p":"b","d":58,"s":120,"g":1},{"p":"b","d":59,"s":141,"g":1},{"p":"b","d":61,"s":121,"g":1},{"p":"b","d":62,"s":129,"g":1},{"p":"b","d":64,"s":110,"g":1},{"p":"b","d":66,"s":118,"g":1},{"p":"b","d":67,"s":120,"g":1},{"p":"b","d":69,"s":98,"g":1},{"p":"b","d":71,"s":72,"g":1},{"p":"b","d":73,"s":70,"g":1},{"p":"b","d":75,"s":74,"g":1},{"p":"b","d":77,"s":62,"g":1},{"p":"b","d":79,"s":58,"g":1},{"p":"b","d":81,"s":68,"g":1},{"p":"b","d":83,"s":66,"g":1},{"p":"b","d":85,"s":62,"g":1},{"p":"b","d":87,"s":56,"g":1},{"p":"b","d":89,"s":62,"g":1},{"p":"b","d":91,"s":70,"g":1},{"p":"b","d":93,"s":78,"g":1},{"p":"b","d":95,"s":100,"g":1},{"p":"b","d":97,"s":98,"g":1},{"p":"b","d":98,"s":96,"g":1},{"p":"b","d":99,"s":137,"g":1},
{"p":"b","d":103,"s":64,"g":2},{"p":"b","d":105,"s":48,"g":2},{"p":"b","d":107,"s":45,"g":2},{"p":"b","d":109,"s":46,"g":2},{"p":"b","d":111,"s":56,"g":2},{"p":"b","d":113,"s":52,"g":2},{"p":"b","d":115,"s":50,"g":2},{"p":"b","d":117,"s":50,"g":2},{"p":"b","d":119,"s":48,"g":2},{"p":"b","d":121,"s":46,"g":2},{"p":"b","d":123,"s":45,"g":2},{"p":"b","d":125,"s":50,"g":2},{"p":"b","d":127,"s":62,"g":2},{"p":"b","d":129,"s":72,"g":2},{"p":"b","d":131,"s":76,"g":2},{"p":"b","d":133,"s":58,"g":2},{"p":"b","d":135,"s":56,"g":2},{"p":"b","d":137,"s":56,"g":2},{"p":"b","d":139,"s":56,"g":2},{"p":"b","d":141,"s":53,"g":2},{"p":"b","d":143,"s":46,"g":2},{"p":"b","d":145,"s":45,"g":2},{"p":"b","d":147,"s":60,"g":2},
{"p":"c","d":2,"s":60,"g":1},{"p":"c","d":4,"s":68,"g":1},{"p":"c","d":6,"s":76,"g":1},{"p":"c","d":8,"s":84,"g":1},{"p":"c","d":10,"s":78,"g":1},{"p":"c","d":12,"s":72,"g":1},{"p":"c","d":14,"s":71,"g":1},{"p":"c","d":16,"s":68,"g":1},{"p":"c","d":17,"s":66,"g":1},{"p":"c","d":18,"s":50,"g":1},
{"p":"c","d":29,"s":58,"g":2},{"p":"c","d":31,"s":73,"g":2},{"p":"c","d":33,"s":84,"g":2},{"p":"c","d":35,"s":96,"g":2},{"p":"c","d":37,"s":112,"g":2},{"p":"c","d":38,"s":121,"g":2},{"p":"c","d":40,"s":108,"g":2},{"p":"c","d":42,"s":82,"g":2},{"p":"c","d":44,"s":70,"g":2},{"p":"c","d":45,"s":68,"g":2},{"p":"c","d":47,"s":86,"g":2},{"p":"c","d":49,"s":74,"g":2},{"p":"c","d":51,"s":68,"g":2},{"p":"c","d":53,"s":66,"g":2},{"p":"c","d":55,"s":73,"g":2},{"p":"c","d":57,"s":80,"g":2},{"p":"c","d":58,"s":84,"g":2},
{"p":"c","d":62,"s":111,"g":3},{"p":"c","d":63,"s":116,"g":3},{"p":"c","d":64,"s":130,"g":3},{"p":"c","d":66,"s":139,"g":3},{"p":"c","d":67,"s":130,"g":3},{"p":"c","d":68,"s":119,"g":3},{"p":"c","d":70,"s":83,"g":3},{"p":"c","d":72,"s":68,"g":3},{"p":"c","d":74,"s":78,"g":3},{"p":"c","d":76,"s":81,"g":3},{"p":"c","d":78,"s":68,"g":3},{"p":"c","d":80,"s":48,"g":3},{"p":"c","d":82,"s":40,"g":3},{"p":"c","d":84,"s":62,"g":3},{"p":"c","d":86,"s":73,"g":3},{"p":"c","d":88,"s":73,"g":3},{"p":"c","d":90,"s":53,"g":3},{"p":"c","d":92,"s":60,"g":3},{"p":"c","d":94,"s":72,"g":3},{"p":"c","d":96,"s":88,"g":3},{"p":"c","d":98,"s":95,"g":3},{"p":"c","d":100,"s":90,"g":3},{"p":"c","d":102,"s":78,"g":3},{"p":"c","d":104,"s":68,"g":3},{"p":"c","d":106,"s":60,"g":3},{"p":"c","d":108,"s":48,"g":3},{"p":"c","d":110,"s":50,"g":3},{"p":"c","d":112,"s":54,"g":3},{"p":"c","d":114,"s":60,"g":3},{"p":"c","d":116,"s":56,"g":3},{"p":"c","d":118,"s":50,"g":3},{"p":"c","d":120,"s":45,"g":3},{"p":"c","d":122,"s":47,"g":3},{"p":"c","d":124,"s":48,"g":3},{"p":"c","d":126,"s":46,"g":3},{"p":"c","d":128,"s":45,"g":3},{"p":"c","d":130,"s":42,"g":3},{"p":"c","d":132,"s":40,"g":3},{"p":"c","d":134,"s":42,"g":3},{"p":"c","d":136,"s":44,"g":3},{"p":"c","d":138,"s":52,"g":3},{"p":"c","d":140,"s":56,"g":3},{"p":"c","d":142,"s":54,"g":3},{"p":"c","d":144,"s":48,"g":3},{"p":"c","d":146,"s":46,"g":3},{"p":"c","d":148,"s":48,"g":3},{"p":"c","d":149,"s":58,"g":3}
]
},
"vconcat":[
{"hconcat":[
{"hconcat":[
{"width":347,"height":165,"title":"(a) 2008","layer":[
{"data":{"name":"mb"},"transform":[{"filter":"datum.p=='a'"}],"mark":{"type":"rule","color":"#8c8c8c","strokeDash":[1,2],"strokeWidth":1},"encoding":{"x":{"field":"d","type":"quantitative","scale":{"domain":[1,150],"nice":false,"zero":false},"axis":{"values":[1,20,40,60,80,100,120,140],"title":"Day number"}}}},
{"data":{"values":[{}]},"mark":{"type":"rule","color":"#8c8c8c","strokeDash":[1,2],"strokeWidth":1},"encoding":{"y":{"datum":0,"type":"quantitative","axis":{"values":[-50,0,50],"title":"Zonal Wind (m s⁻¹)"}}}},
{"data":{"name":"ml"},"transform":[{"filter":"datum.p=='a'"}],"mark":{"type":"text","font":"Liberation Sans","fontSize":15.5,"fontWeight":"bold","color":"#7f7f7f"},"encoding":{"x":{"field":"d","type":"quantitative"},"y":{"datum":41,"type":"quantitative","axis":{"values":[-50,0,50],"title":"Zonal Wind (m s⁻¹)"}},"text":{"field":"m"}}},
{"data":{"name":"raw"},"transform":[{"filter":"datum.p=='a'"}],"mark":{"type":"point","shape":"circle","filled":false,"color":"#ff0000","size":50,"strokeWidth":1.5,"opacity":1,"clip":true},"encoding":{"x":{"field":"d","type":"quantitative"},"y":{"field":"u","type":"quantitative","scale":{"domain":[-55,55],"nice":false},"axis":{"values":[-50,0,50],"title":"Zonal Wind (m s⁻¹)"}}}},
{"data":{"name":"ws"},"transform":[{"filter":"datum.p=='a'"}],"mark":{"type":"line","color":"black","strokeWidth":3.5,"clip":true},"encoding":{"x":{"field":"d","type":"quantitative"},"y":{"field":"s","type":"quantitative","axis":{"values":[-50,0,50],"title":"Zonal Wind (m s⁻¹)"}},"detail":{"field":"g"}}}
]},
{"width":347,"height":165,"title":"(b) 2009","layer":[
{"data":{"name":"mb"},"transform":[{"filter":"datum.p=='b'"}],"mark":{"type":"rule","color":"#8c8c8c","strokeDash":[1,2],"strokeWidth":1},"encoding":{"x":{"field":"d","type":"quantitative","scale":{"domain":[1,150],"nice":false,"zero":false},"axis":{"values":[1,20,40,60,80,100,120,140],"title":"Day number"}}}},
{"data":{"values":[{}]},"mark":{"type":"rule","color":"#8c8c8c","strokeDash":[1,2],"strokeWidth":1},"encoding":{"y":{"datum":0,"type":"quantitative","axis":{"values":[-50,0,50],"title":"Zonal Wind (m s⁻¹)"}}}},
{"data":{"name":"ml"},"transform":[{"filter":"datum.p=='b'"}],"mark":{"type":"text","font":"Liberation Sans","fontSize":15.5,"fontWeight":"bold","color":"#7f7f7f"},"encoding":{"x":{"field":"d","type":"quantitative"},"y":{"datum":34,"type":"quantitative","axis":{"values":[-50,0,50],"title":"Zonal Wind (m s⁻¹)"}},"text":{"field":"m"}}},
{"data":{"name":"raw"},"transform":[{"filter":"datum.p=='b'"}],"mark":{"type":"point","shape":"circle","filled":false,"color":"#ff0000","size":50,"strokeWidth":1.5,"opacity":1,"clip":true},"encoding":{"x":{"field":"d","type":"quantitative"},"y":{"field":"u","type":"quantitative","scale":{"domain":[-55,55],"nice":false},"axis":{"values":[-50,0,50],"title":"Zonal Wind (m s⁻¹)"}}}},
{"data":{"name":"ws"},"transform":[{"filter":"datum.p=='b'"}],"mark":{"type":"line","color":"black","strokeWidth":3.5,"clip":true},"encoding":{"x":{"field":"d","type":"quantitative"},"y":{"field":"s","type":"quantitative","axis":{"values":[-50,0,50],"title":"Zonal Wind (m s⁻¹)"}},"detail":{"field":"g"}}}
]}
],"spacing":57},
{"width":347,"height":165,"title":"(c) 2010","layer":[
{"data":{"name":"mb"},"transform":[{"filter":"datum.p=='c'"}],"mark":{"type":"rule","color":"#8c8c8c","strokeDash":[1,2],"strokeWidth":1},"encoding":{"x":{"field":"d","type":"quantitative","scale":{"domain":[1,150],"nice":false,"zero":false},"axis":{"values":[1,20,40,60,80,100,120,140],"title":"Day number"}}}},
{"data":{"values":[{}]},"mark":{"type":"rule","color":"#8c8c8c","strokeDash":[1,2],"strokeWidth":1},"encoding":{"y":{"datum":0,"type":"quantitative","axis":{"values":[-50,0,50],"title":"Zonal Wind (m s⁻¹)"}}}},
{"data":{"name":"ml"},"transform":[{"filter":"datum.p=='c'"}],"mark":{"type":"text","font":"Liberation Sans","fontSize":15.5,"fontWeight":"bold","color":"#7f7f7f"},"encoding":{"x":{"field":"d","type":"quantitative"},"y":{"datum":34,"type":"quantitative","axis":{"values":[-50,0,50],"title":"Zonal Wind (m s⁻¹)"}},"text":{"field":"m"}}},
{"data":{"name":"raw"},"transform":[{"filter":"datum.p=='c'"}],"mark":{"type":"point","shape":"circle","filled":false,"color":"#ff0000","size":50,"strokeWidth":1.5,"opacity":1,"clip":true},"encoding":{"x":{"field":"d","type":"quantitative"},"y":{"field":"u","type":"quantitative","scale":{"domain":[-55,55],"nice":false},"axis":{"values":[-50,0,50],"title":"Zonal Wind (m s⁻¹)"}}}},
{"data":{"name":"ws"},"transform":[{"filter":"datum.p=='c'"}],"mark":{"type":"line","color":"black","strokeWidth":3.5,"clip":true},"encoding":{"x":{"field":"d","type":"quantitative"},"y":{"field":"s","type":"quantitative","axis":{"values":[-50,0,50],"title":"Zonal Wind (m s⁻¹)"}},"detail":{"field":"g"}}}
]}
],"spacing":71},
{"hconcat":[
{"hconcat":[
{"width":347,"height":165,"layer":[
{"data":{"name":"mb"},"transform":[{"filter":"datum.p=='a'"}],"mark":{"type":"rule","color":"#8c8c8c","strokeDash":[1,2],"strokeWidth":1},"encoding":{"x":{"field":"d","type":"quantitative","scale":{"domain":[1,150],"nice":false,"zero":false},"axis":{"values":[1,20,40,60,80,100,120,140],"title":"Day number"}}}},
{"data":{"name":"raw"},"transform":[{"filter":"datum.p=='a'"}],"mark":{"type":"line","color":"#0000ff","strokeWidth":1.3,"clip":true},"encoding":{"x":{"field":"d","type":"quantitative"},"y":{"field":"w","type":"quantitative","scale":{"domain":[0,250],"nice":false},"axis":{"values":[0,50,100,150,200,250],"title":"GW variance (m² s⁻²)"}},"detail":{"field":"g"}}},
{"data":{"name":"raw"},"transform":[{"filter":"datum.p=='a'"}],"mark":{"type":"point","shape":"circle","filled":false,"color":"#0000ff","size":45,"strokeWidth":1.5,"opacity":1,"clip":true},"encoding":{"x":{"field":"d","type":"quantitative"},"y":{"field":"w","type":"quantitative","axis":{"values":[0,50,100,150,200,250],"title":"GW variance (m² s⁻²)"}}}},
{"data":{"name":"vs"},"transform":[{"filter":"datum.p=='a'"}],"mark":{"type":"line","color":"black","strokeWidth":3.5,"clip":true},"encoding":{"x":{"field":"d","type":"quantitative"},"y":{"field":"s","type":"quantitative","axis":{"values":[0,50,100,150,200,250],"title":"GW variance (m² s⁻²)"}},"detail":{"field":"g"}}}
]},
{"width":347,"height":165,"layer":[
{"data":{"name":"mb"},"transform":[{"filter":"datum.p=='b'"}],"mark":{"type":"rule","color":"#8c8c8c","strokeDash":[1,2],"strokeWidth":1},"encoding":{"x":{"field":"d","type":"quantitative","scale":{"domain":[1,150],"nice":false,"zero":false},"axis":{"values":[1,20,40,60,80,100,120,140],"title":"Day number"}}}},
{"data":{"name":"raw"},"transform":[{"filter":"datum.p=='b'"}],"mark":{"type":"line","color":"#0000ff","strokeWidth":1.3,"clip":true},"encoding":{"x":{"field":"d","type":"quantitative"},"y":{"field":"w","type":"quantitative","scale":{"domain":[0,250],"nice":false},"axis":{"values":[0,50,100,150,200,250],"title":"GW variance (m² s⁻²)"}},"detail":{"field":"g"}}},
{"data":{"name":"raw"},"transform":[{"filter":"datum.p=='b'"}],"mark":{"type":"point","shape":"circle","filled":false,"color":"#0000ff","size":45,"strokeWidth":1.5,"opacity":1,"clip":true},"encoding":{"x":{"field":"d","type":"quantitative"},"y":{"field":"w","type":"quantitative","axis":{"values":[0,50,100,150,200,250],"title":"GW variance (m² s⁻²)"}}}},
{"data":{"name":"vs"},"transform":[{"filter":"datum.p=='b'"}],"mark":{"type":"line","color":"black","strokeWidth":3.5,"clip":true},"encoding":{"x":{"field":"d","type":"quantitative"},"y":{"field":"s","type":"quantitative","axis":{"values":[0,50,100,150,200,250],"title":"GW variance (m² s⁻²)"}},"detail":{"field":"g"}}}
]}
],"spacing":57},
{"width":347,"height":165,"layer":[
{"data":{"name":"mb"},"transform":[{"filter":"datum.p=='c'"}],"mark":{"type":"rule","color":"#8c8c8c","strokeDash":[1,2],"strokeWidth":1},"encoding":{"x":{"field":"d","type":"quantitative","scale":{"domain":[1,150],"nice":false,"zero":false},"axis":{"values":[1,20,40,60,80,100,120,140],"title":"Day number"}}}},
{"data":{"name":"raw"},"transform":[{"filter":"datum.p=='c'"}],"mark":{"type":"line","color":"#0000ff","strokeWidth":1.3,"clip":true},"encoding":{"x":{"field":"d","type":"quantitative"},"y":{"field":"w","type":"quantitative","scale":{"domain":[0,250],"nice":false},"axis":{"values":[0,50,100,150,200,250],"title":"GW variance (m² s⁻²)"}},"detail":{"field":"g"}}},
{"data":{"name":"raw"},"transform":[{"filter":"datum.p=='c'"}],"mark":{"type":"point","shape":"circle","filled":false,"color":"#0000ff","size":45,"strokeWidth":1.5,"opacity":1,"clip":true},"encoding":{"x":{"field":"d","type":"quantitative"},"y":{"field":"w","type":"quantitative","axis":{"values":[0,50,100,150,200,250],"title":"GW variance (m² s⁻²)"}}}},
{"data":{"name":"vs"},"transform":[{"filter":"datum.p=='c'"}],"mark":{"type":"line","color":"black","strokeWidth":3.5,"clip":true},"encoding":{"x":{"field":"d","type":"quantitative"},"y":{"field":"s","type":"quantitative","axis":{"values":[0,50,100,150,200,250],"title":"GW variance (m² s⁻²)"}},"detail":{"field":"g"}}}
]}
],"spacing":71}
],
"spacing":16
}
